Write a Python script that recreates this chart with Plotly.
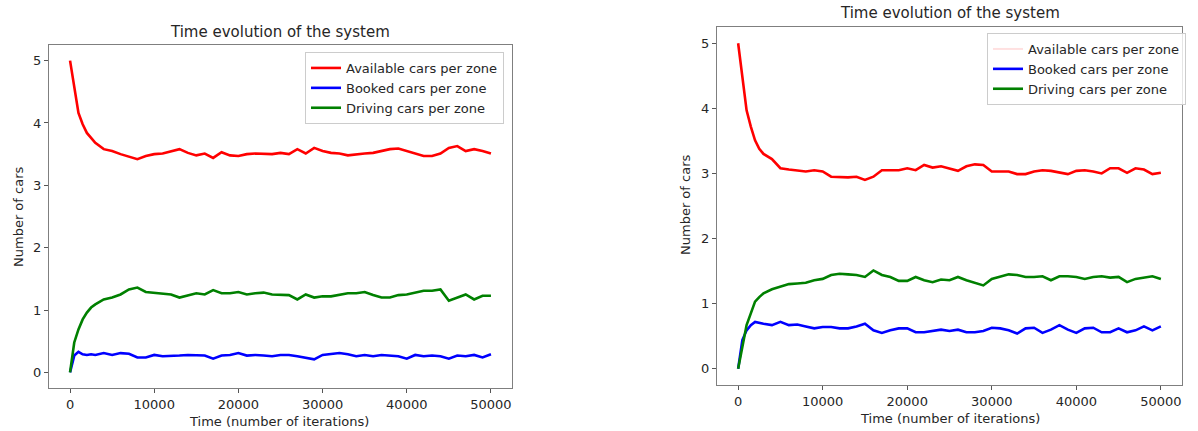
import plotly.graph_objects as go

# ---- data ----
iterations = [0, 500, 1000, 1500, 2000, 2500, 3000, 4000, 5000, 6000, 7000, 8000, 9000,
              10000, 11000, 12000, 13000, 14000, 15000, 16000, 17000, 18000, 19000,
              20000, 21000, 22000, 23000, 24000, 25000, 26000, 27000, 28000, 29000,
              30000, 31000, 32000, 33000, 34000, 35000, 36000, 37000, 38000, 39000,
              40000, 41000, 42000, 43000, 44000, 45000, 46000, 47000, 48000, 49000, 50000]

left_available = [5.00, 4.54, 4.16, 3.98, 3.84, 3.76, 3.68, 3.58, 3.55, 3.50, 3.46, 3.42, 3.47,
                  3.50, 3.51, 3.55, 3.58, 3.52, 3.48, 3.51, 3.44, 3.53, 3.48,
                  3.47, 3.50, 3.51, 3.50, 3.50, 3.52, 3.50, 3.58, 3.51, 3.60,
                  3.55, 3.52, 3.51, 3.48, 3.50, 3.51, 3.52, 3.55, 3.58, 3.59,
                  3.55, 3.50, 3.47, 3.47, 3.51, 3.60, 3.63, 3.55, 3.58, 3.55, 3.51]
left_booked = [0.00, 0.27, 0.33, 0.29, 0.28, 0.29, 0.28, 0.31, 0.28, 0.31, 0.30, 0.24, 0.24,
               0.28, 0.26, 0.26, 0.27, 0.28, 0.28, 0.27, 0.22, 0.27, 0.28,
               0.31, 0.27, 0.28, 0.27, 0.26, 0.28, 0.28, 0.26, 0.24, 0.21,
               0.28, 0.29, 0.31, 0.29, 0.26, 0.28, 0.26, 0.28, 0.27, 0.26,
               0.22, 0.28, 0.26, 0.27, 0.26, 0.22, 0.27, 0.26, 0.28, 0.24, 0.29]
left_driving = [0.00, 0.48, 0.69, 0.85, 0.96, 1.04, 1.09, 1.17, 1.20, 1.25, 1.33, 1.36, 1.29,
                1.28, 1.27, 1.25, 1.20, 1.23, 1.27, 1.25, 1.32, 1.27, 1.27,
                1.29, 1.25, 1.27, 1.28, 1.25, 1.25, 1.24, 1.17, 1.25, 1.20,
                1.22, 1.22, 1.25, 1.27, 1.27, 1.29, 1.24, 1.20, 1.20, 1.24,
                1.25, 1.28, 1.31, 1.31, 1.33, 1.15, 1.20, 1.25, 1.17, 1.23, 1.23]

right_available = [5.00, 4.44, 3.97, 3.72, 3.51, 3.38, 3.30, 3.22, 3.08, 3.06, 3.05, 3.03, 3.05,
                   3.03, 2.95, 2.94, 2.94, 2.95, 2.90, 2.95, 3.05, 3.05, 3.05,
                   3.08, 3.05, 3.13, 3.09, 3.11, 3.08, 3.04, 3.11, 3.14, 3.13,
                   3.03, 3.03, 3.03, 2.99, 2.99, 3.03, 3.05, 3.04, 3.01, 2.99,
                   3.04, 3.05, 3.03, 3.00, 3.08, 3.08, 3.01, 3.08, 3.06, 2.99, 3.01]
right_booked = [0.00, 0.44, 0.59, 0.67, 0.72, 0.70, 0.69, 0.67, 0.72, 0.67, 0.68, 0.65, 0.62,
                0.64, 0.64, 0.62, 0.62, 0.65, 0.69, 0.59, 0.55, 0.59, 0.62,
                0.62, 0.56, 0.56, 0.58, 0.60, 0.58, 0.60, 0.56, 0.56, 0.58,
                0.63, 0.62, 0.59, 0.54, 0.62, 0.63, 0.55, 0.60, 0.67, 0.60,
                0.55, 0.62, 0.63, 0.56, 0.56, 0.62, 0.56, 0.59, 0.65, 0.59, 0.65]
right_driving = [0.00, 0.33, 0.67, 0.85, 1.03, 1.10, 1.16, 1.22, 1.26, 1.30, 1.31, 1.32, 1.36,
                 1.38, 1.44, 1.46, 1.45, 1.44, 1.41, 1.51, 1.44, 1.41, 1.35,
                 1.35, 1.41, 1.36, 1.33, 1.37, 1.36, 1.41, 1.36, 1.32, 1.28,
                 1.38, 1.41, 1.45, 1.44, 1.41, 1.41, 1.42, 1.36, 1.42, 1.42,
                 1.41, 1.38, 1.41, 1.42, 1.40, 1.41, 1.33, 1.38, 1.40, 1.42, 1.38]

series_names = ["Available cars per zone", "Booked cars per zone", "Driving cars per zone"]
series_colors = ["#ff0000", "#0000ff", "#008000"]
x_ticks = [0, 10000, 20000, 30000, 40000, 50000]
x_tick_labels = ["0", "10000", "20000", "30000", "40000", "50000"]
y_ticks = [0, 1, 2, 3, 4, 5]
y_tick_labels = ["0", "1", "2", "3", "4", "5"]
title_text = "Time evolution of the system"
x_title = "Time (number of iterations)"
y_title = "Number of cars"

FONT = "DejaVu Sans"
TXT = "#262626"

fig = go.Figure()

left_data = [left_available, left_booked, left_driving]
right_data = [right_available, right_booked, right_driving]

for name, color, ys in zip(series_names, series_colors, left_data):
    fig.add_trace(go.Scatter(x=iterations, y=ys, mode="lines", name=name,
                             line=dict(color=color, width=2.6),
                             xaxis="x", yaxis="y", legend="legend"))

# right panel: the red legend entry is very faint in the reference
fig.add_trace(go.Scatter(x=[None], y=[None], mode="lines", name=series_names[0],
                         line=dict(color="rgba(255,0,0,0.12)", width=2),
                         xaxis="x2", yaxis="y2", legend="legend2"))
for i, (name, color, ys) in enumerate(zip(series_names, series_colors, right_data)):
    fig.add_trace(go.Scatter(x=iterations, y=ys, mode="lines", name=name,
                             line=dict(color=color, width=2.6),
                             showlegend=(i != 0),
                             xaxis="x2", yaxis="y2", legend="legend2"))

axis_common = dict(showline=True, mirror=True, linecolor="#7f7f7f", linewidth=1.2,
                   showgrid=False, zeroline=False, ticks="outside", ticklen=4,
                   tickcolor="#555555", tickfont=dict(family=FONT, size=13, color=TXT))

W, H = 1198, 431
def px_x(p): return p / W
def px_y(p): return 1 - p / H

fig.update_layout(
    width=W, height=H,
    margin=dict(l=0, r=0, t=0, b=0),
    paper_bgcolor="white", plot_bgcolor="white",
    font=dict(family=FONT, color=TXT),
    xaxis=dict(domain=[px_x(49), px_x(512)], range=[-2500, 52500], tickvals=x_ticks,
               ticktext=x_tick_labels, anchor="y", **axis_common),
    yaxis=dict(domain=[px_y(388), px_y(45)], range=[-0.25, 5.25], tickvals=y_ticks,
               ticktext=y_tick_labels, anchor="x", **axis_common),
    xaxis2=dict(domain=[px_x(717), px_x(1182)], range=[-2500, 52500], tickvals=x_ticks,
                ticktext=x_tick_labels, anchor="y2", **axis_common),
    yaxis2=dict(domain=[px_y(385), px_y(27)], range=[-0.25, 5.25], tickvals=y_ticks,
                ticktext=y_tick_labels, anchor="x2", **axis_common),
    legend=dict(x=px_x(504), y=px_y(52), xanchor="right", yanchor="top",
                bgcolor="rgba(255,255,255,0.8)", bordercolor="#cccccc", borderwidth=1,
                font=dict(family=FONT, size=13, color=TXT), tracegroupgap=0),
    legend2=dict(x=px_x(1186), y=px_y(33), xanchor="right", yanchor="top",
                 bgcolor="rgba(255,255,255,0.8)", bordercolor="#cccccc", borderwidth=1,
                 font=dict(family=FONT, size=13, color=TXT), tracegroupgap=0),
    showlegend=True,
)

annotations = [
    dict(text=title_text, x=px_x(280), y=px_y(32), size=15, angle=0),
    dict(text=title_text, x=px_x(950), y=px_y(13), size=15, angle=0),
    dict(text=x_title, x=px_x(279), y=px_y(421), size=13, angle=0),
    dict(text=x_title, x=px_x(950), y=px_y(418), size=13, angle=0),
    dict(text=y_title, x=px_x(18), y=px_y(217), size=13, angle=-90),
    dict(text=y_title, x=px_x(685), y=px_y(205), size=13, angle=-90),
]
for a in annotations:
    fig.add_annotation(xref="paper", yref="paper", showarrow=False,
                       xanchor="center", yanchor="middle",
                       font=dict(family=FONT, color=TXT, size=a["size"]),
                       text=a["text"], x=a["x"], y=a["y"], textangle=a["angle"])

fig.write_html("out.html",
               config={"displayModeBar": False},
               post_script="document.body.style.margin='0';document.body.style.overflow='hidden';")
